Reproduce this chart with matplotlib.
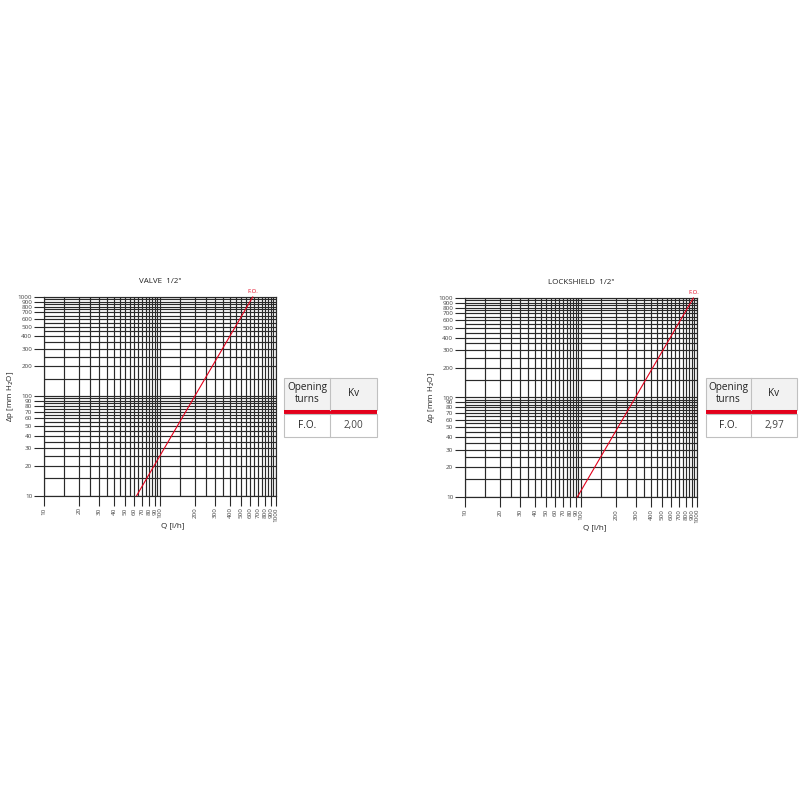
import matplotlib
matplotlib.use("Agg")
import matplotlib.pyplot as plt
from matplotlib.patches import Rectangle
from matplotlib.ticker import NullFormatter, FixedLocator

plt.rcParams['font.family'] = ['Open Sans', 'DejaVu Sans']

# ---- data ----
titles = ["VALVE  1/2\"", "LOCKSHIELD  1/2\""]
curve_label = "F.O."
# flow Q [l/h] and pressure drop [mm H2O]
q_valve = [63, 630]
dp_valve = [10, 1000]
q_lock = [93, 930]
dp_lock = [10, 1000]
kv_values = ["2,00", "2,97"]
table_header = ["Opening\nturns", "Kv"]
table_row = "F.O."

major_ticks = [10, 20, 30, 40, 50, 60, 70, 80, 90, 100,
               200, 300, 400, 500, 600, 700, 800, 900, 1000]
minor_ticks = [15, 25, 35, 45, 55, 65, 75, 85, 95,
               150, 250, 350, 450, 550, 650, 750, 850, 950]
tick_labels = [str(v) for v in major_ticks]

W = H = 800
fig = plt.figure(figsize=(8, 8), dpi=100)
fig.patch.set_facecolor("white")

def fx(px):
    return px / W

def fy(py):
    return 1 - py / H

RED = "#e3001b"
GRID = "#2a2a2a"

def make_chart(box, title, q, dp, qlabel_x):
    x0, x1, y0, y1 = box  # pixel coords, y0 top
    ax = fig.add_axes([fx(x0), fy(y1), fx(x1 - x0), (y1 - y0) / H])
    ax.set_xscale("log")
    ax.set_yscale("log")
    ax.set_xlim(10, 1000)
    ax.set_ylim(10, 1000)
    for axis in (ax.xaxis, ax.yaxis):
        axis.set_major_locator(FixedLocator(major_ticks))
        axis.set_minor_locator(FixedLocator(minor_ticks))
        axis.set_minor_formatter(NullFormatter())
    ax.set_xticklabels(tick_labels, rotation=90)
    ax.set_yticklabels(tick_labels)
    ax.tick_params(which="major", length=7, width=0.8, color=GRID,
                   labelsize=4.5, labelcolor="#444444", pad=1.5)
    ax.tick_params(which="minor", length=0)
    ax.grid(True, which="both", color=GRID, linewidth=0.85)
    for s in ax.spines.values():
        s.set_color(GRID)
        s.set_linewidth(0.85)
    ax.plot(q, dp, color=RED, linewidth=0.8, zorder=5, clip_on=False)
    ax.text(q[-1], dp[-1] * 1.06, curve_label, color=RED, fontsize=4.2,
            ha="center", va="bottom")
    ax.set_title(title, fontsize=5.8, color="#222222", pad=10)
    ax.set_ylabel("Δp [mm H$_2$O]", fontsize=5.8, color="#222222", labelpad=1)
    ax.text(qlabel_x, -0.135, "Q [l/h]", transform=ax.transAxes,
            fontsize=5.8, color="#222222", ha="center", va="top")
    return ax

make_chart((44, 276, 297, 495.5), titles[0], q_valve, dp_valve, 0.555)
make_chart((465, 697, 298, 497), titles[1], q_lock, dp_lock, 0.56)

# ---- tables ----
def make_table(x0, xm, x1, kv):
    top, redtop, redbot, bottom = 377.5, 409.5, 413.5, 436.7
    tax = fig.add_axes([0, 0, 1, 1], zorder=10)
    tax.set_xlim(0, W)
    tax.set_ylim(H, 0)
    tax.axis("off")
    tax.patch.set_alpha(0)
    border = "#c0c0c0"
    tax.add_patch(Rectangle((x0, top), x1 - x0, redtop - top,
                            facecolor="#f2f2f2", edgecolor=border, linewidth=0.8))
    tax.add_patch(Rectangle((x0, redtop), x1 - x0, redbot - redtop,
                            facecolor=RED, edgecolor="none"))
    tax.add_patch(Rectangle((x0, redbot), x1 - x0, bottom - redbot,
                            facecolor="white", edgecolor=border, linewidth=0.8))
    tax.plot([xm, xm], [top, redtop], color=border, linewidth=0.8)
    tax.plot([xm, xm], [redbot, bottom], color=border, linewidth=0.8)
    tax.text((x0 + xm) / 2, (top + redtop) / 2, table_header[0], fontsize=7.2,
             ha="center", va="center", color="#222222", linespacing=1.05)
    tax.text((xm + x1) / 2, (top + redtop) / 2, table_header[1], fontsize=7.2,
             ha="center", va="center", color="#222222")
    tax.text((x0 + xm) / 2, (redbot + bottom) / 2, table_row, fontsize=7.2,
             ha="center", va="center", color="#222222")
    tax.text((xm + x1) / 2, (redbot + bottom) / 2, kv, fontsize=7.2,
             ha="center", va="center", color="#444444")

make_table(284, 330, 377, kv_values[0])
make_table(706, 751, 797, kv_values[1])

fig.savefig("out.png", dpi=100, facecolor="white")
